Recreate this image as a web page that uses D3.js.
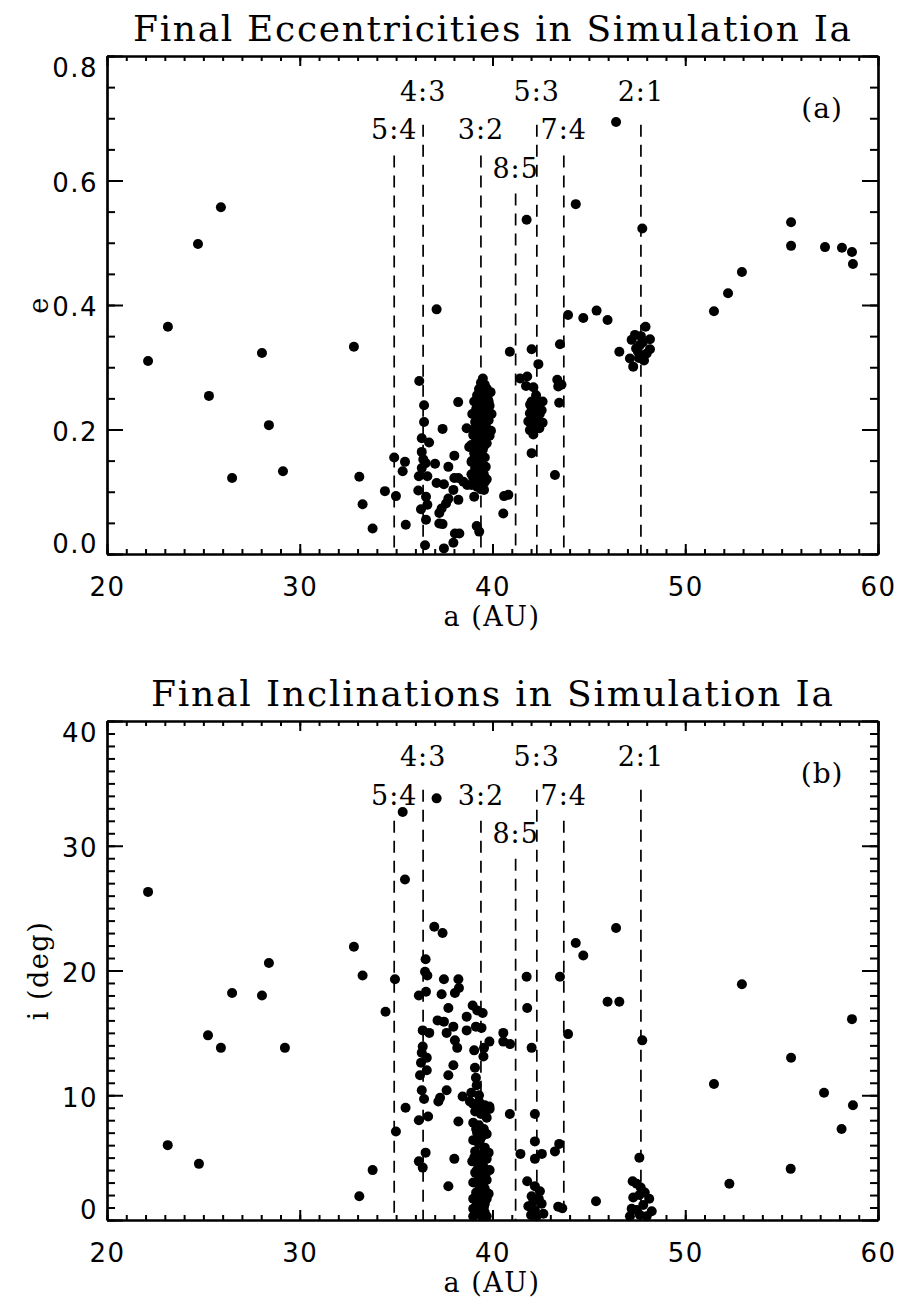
<!DOCTYPE html>
<html>
<head>
<meta charset="utf-8">
<script src="https://cdn.jsdelivr.net/npm/d3@7"></script>
<style>
body { margin: 0; background: #fff; }
</style>
</head>
<body>
<svg id="chart" width="899" height="1307"></svg>
<script>
// resonance locations (AU)
const resonanceNames = ["5:4", "4:3", "3:2", "8:5", "5:3", "7:4", "2:1"];
const resonanceA = [34.9, 36.4, 39.4, 41.2, 42.3, 43.7, 47.7];

const xTicks = [20, 30, 40, 50, 60];
const eTicks = [0.0, 0.2, 0.4, 0.6, 0.8];
const iTicks = [0, 10, 20, 30, 40];

// panel (a): [a, e]
const eccPoints = [
  [22.13,0.310],[23.16,0.365],[24.72,0.498],[25.91,0.557],[25.29,0.254],[26.49,0.122],[28.04,0.323],[28.40,0.207],[29.13,0.133],
  [32.81,0.333],[33.09,0.124],[33.26,0.080],[33.78,0.041],[34.42,0.101],[34.90,0.155],[34.99,0.093],[35.46,0.148],[35.34,0.133],[35.50,0.047],
  [36.20,0.278],[36.45,0.239],[36.45,0.212],[36.33,0.186],[36.71,0.179],[36.33,0.164],[36.41,0.152],[36.53,0.146],[36.18,0.125],[36.62,0.125],
  [36.33,0.138],[36.15,0.102],[36.55,0.092],[36.62,0.079],[36.29,0.072],[36.55,0.055],[36.50,0.014],
  [37.10,0.393],[37.41,0.201],[37.02,0.145],[37.71,0.140],[37.10,0.114],[37.48,0.112],[37.24,0.066],[37.36,0.073],[37.59,0.081],[37.71,0.089],
  [37.97,0.103],[38.02,0.122],[38.23,0.122],[38.49,0.116],[38.69,0.111],[38.23,0.087],[37.24,0.049],[37.41,0.048],[37.48,0.009],[37.97,0.018],
  [38.05,0.033],[38.28,0.033],[38.22,0.244],[38.66,0.202],[38.02,0.158],
  [39.18,0.045],[39.31,0.036],[39.05,0.092],[39.56,0.103],[38.91,0.111],[39.14,0.116],[39.43,0.127],[38.91,0.128],[39.35,0.140],[38.91,0.148],
  [38.79,0.172],[39.92,0.198],[39.00,0.191],[39.61,0.116],
  [39.50,0.282],[39.40,0.275],[39.60,0.272],[39.30,0.265],[39.50,0.262],[39.70,0.266],[39.90,0.260],[39.20,0.255],[39.45,0.252],[39.75,0.250],
  [39.05,0.245],[39.30,0.243],[39.60,0.240],[39.85,0.238],[39.15,0.233],[39.45,0.230],[39.70,0.228],[38.95,0.225],[39.30,0.222],[39.55,0.218],
  [39.80,0.215],[39.10,0.212],[39.40,0.208],[39.65,0.205],[39.00,0.200],[39.30,0.197],[39.55,0.193],[39.85,0.190],[39.15,0.186],[39.45,0.183],
  [39.70,0.178],[38.90,0.175],[39.25,0.172],[39.50,0.168],[39.05,0.162],[39.35,0.158],[39.60,0.155],[38.95,0.150],[39.20,0.147],[39.45,0.143],
  [39.10,0.138],[39.35,0.133],[39.55,0.128],[39.00,0.122],[39.25,0.120],[39.50,0.115],[39.20,0.108],[39.40,0.104],
  [39.65,0.262],[39.35,0.250],[39.80,0.245],[39.20,0.238],[39.55,0.235],[39.95,0.225],[39.25,0.205],[39.75,0.200],[39.40,0.190],[39.60,0.175],
  [39.10,0.170],[39.35,0.150],[39.65,0.140],[39.20,0.128],[39.70,0.120],
  [40.56,0.065],[40.60,0.093],[40.82,0.095],[40.90,0.325],
  [41.77,0.537],[42.03,0.329],[42.38,0.305],[41.43,0.282],[41.80,0.285],[41.74,0.270],[42.12,0.268],[42.26,0.255],[42.60,0.245],[42.03,0.245],
  [42.55,0.231],[41.94,0.226],[41.86,0.213],[42.60,0.211],[42.29,0.218],[41.94,0.199],[42.12,0.192],[42.43,0.202],[42.03,0.162],[42.26,0.231],
  [42.10,0.225],[42.35,0.240],[42.00,0.210],[42.45,0.225],[42.20,0.205],[41.95,0.240],
  [43.36,0.280],[43.58,0.272],[43.41,0.269],[43.46,0.243],[43.24,0.127],[43.50,0.337],
  [43.92,0.384],[44.71,0.379],[45.40,0.391],[45.97,0.376],[44.32,0.562],[46.41,0.694],[46.58,0.325],[47.77,0.523],
  [47.94,0.365],[47.30,0.301],[47.13,0.314],[48.17,0.329],[48.17,0.345],[47.86,0.311],[47.22,0.344],[47.39,0.352],[47.65,0.336],[47.55,0.325],
  [47.80,0.340],[47.45,0.330],[47.70,0.350],[48.00,0.322],[47.60,0.315],
  [51.49,0.390],[52.22,0.419],[52.94,0.453],[55.49,0.533],[55.49,0.495],[57.25,0.493],[58.13,0.492],[58.65,0.485],[58.70,0.466]
];

// panel (b): [a, i in deg]
const incPoints = [
  [22.13,26.3],[23.15,6.0],[24.77,4.5],[25.24,14.8],[25.91,13.8],[26.49,18.2],[28.04,18.0],[28.40,20.6],[29.23,13.8],
  [32.81,21.9],[33.09,1.9],[33.26,19.6],[33.78,4.0],[34.45,16.7],[34.94,19.3],[34.99,7.1],[35.34,32.7],[35.46,27.3],[35.49,9.0],
  [36.98,23.5],[37.41,23.0],[37.10,33.8],[36.53,20.9],[36.50,19.9],[36.62,19.6],[36.18,18.0],[36.55,18.3],[36.38,15.2],[36.72,15.0],
  [36.38,13.9],[36.33,13.4],[36.59,13.0],[36.29,12.6],[36.59,12.0],[36.24,11.6],[36.33,10.4],[36.45,9.7],[36.18,8.0],[36.66,8.3],
  [36.53,5.4],[36.18,4.7],[36.38,4.2],
  [37.48,19.3],[38.23,19.3],[37.36,18.1],[38.05,18.2],[38.26,18.6],[37.71,17.0],[38.66,16.3],[38.97,17.2],[39.21,16.8],[39.49,16.6],
  [37.15,16.0],[37.48,15.9],[37.62,15.0],[37.97,15.5],[38.66,15.2],[39.14,15.5],[39.43,15.4],[38.05,14.4],[38.17,13.8],[39.05,13.6],
  [39.56,13.8],[39.53,13.1],[39.84,14.3],[37.97,12.4],[37.71,11.6],[39.09,12.2],[39.14,11.4],[39.18,10.8],[37.62,10.4],[37.28,9.8],
  [37.19,9.5],[38.45,9.9],[38.83,9.5],[38.23,7.9],[38.02,4.9],[37.71,2.7],[39.84,9.1],[38.90,10.2],[39.30,10.0],
  [39.00,9.3],[39.30,9.5],[39.60,9.2],[39.85,8.9],[39.10,8.7],[39.40,8.5],[39.70,8.2],[39.00,7.8],[39.30,7.6],[39.55,7.3],
  [39.20,7.0],[39.45,6.7],[39.00,6.4],[39.30,6.1],[39.60,5.8],[39.10,5.5],[39.40,5.2],[39.70,4.9],[38.95,4.7],[39.25,4.5],
  [39.55,4.2],[39.85,4.0],[39.10,3.8],[39.40,3.5],[39.70,3.2],[39.00,3.0],[39.30,2.8],[39.60,2.5],[39.15,2.2],[39.45,2.0],
  [39.00,1.7],[39.30,1.5],[39.60,1.3],[39.10,1.0],[39.40,0.8],[39.20,0.5],[39.45,0.3],[39.00,0.9],[39.60,0.6],
  [39.25,9.0],[39.55,8.6],[39.15,7.3],[39.70,6.9],[39.35,6.4],[39.80,5.4],[39.05,5.0],[39.50,4.6],[39.20,4.0],[39.65,3.7],
  [39.25,3.2],[39.50,2.9],[39.80,2.1],[39.30,1.9],[39.70,1.7],[39.20,1.3],[39.55,1.0],[39.30,0.6],[39.70,0.3],[39.00,0.3],
  [40.56,15.0],[40.56,14.3],[40.91,14.1],[40.90,8.5],
  [41.77,19.5],[43.50,19.5],[41.80,17.0],[42.03,13.8],[43.92,14.9],[44.32,22.2],[44.71,21.2],[46.41,23.4],[45.97,17.5],[46.58,17.5],
  [47.77,14.4],[42.20,8.5],[42.20,6.3],[41.45,5.3],[42.20,4.9],[42.56,5.3],[43.24,5.5],[43.46,6.1],[47.62,5.0],[41.80,3.1],
  [45.37,1.5],[43.41,1.07],[43.62,0.94],
  [42.20,2.7],[42.03,1.9],[42.46,2.3],[41.86,1.1],[42.55,1.3],[42.20,0.8],[42.64,0.5],[42.29,0.3],[42.12,1.5],[42.40,1.7],[42.00,0.4],
  [47.27,3.1],[47.48,2.9],[47.69,2.6],[47.30,1.8],[47.62,2.0],[48.13,1.7],[47.22,0.9],[47.82,1.2],[48.26,0.7],[47.13,0.3],
  [47.65,0.4],[48.00,0.3],[47.48,0.8],[47.90,2.2],
  [51.49,10.9],[52.94,18.9],[52.29,2.9],[55.49,13.0],[55.47,4.1],[57.20,10.2],[58.11,7.3],[58.65,16.1],[58.70,9.2]
];

const svg = d3.select("#chart");
const serif = "DejaVu Serif";
const sans = "DejaVu Sans";

// label row (0 = top) and dashed-line top for each resonance, as fraction of y range
const labelRowFrac = [0.93, 0.852, 0.775];
const lineTopFrac = [0.862, 0.80, 0.724];
const resonanceRow = [1, 0, 1, 2, 0, 1, 0];

function drawPanel(cfg) {
    const x = d3.scaleLinear().domain([20, 60]).range([107, 878]);
    const y = d3.scaleLinear().domain(cfg.domain).range([cfg.bottom, cfg.top]);
    const yMax = cfg.domain[1];
    const g = svg.append("g");

    // title
    g.append("text")
        .attr("x", 492).attr("y", cfg.top - 15)
        .attr("text-anchor", "middle")
        .attr("font-family", serif).attr("font-size", 36)
        .attr("textLength", cfg.titleWidth).attr("lengthAdjust", "spacing")
        .text(cfg.title);

    // resonance lines + labels
    resonanceA.forEach((a, k) => {
        const row = resonanceRow[k];
        const topVal = yMax * lineTopFrac[row];
        g.append("line")
            .attr("x1", x(a)).attr("x2", x(a))
            .attr("y1", y(topVal)).attr("y2", y(0))
            .attr("stroke", "#000").attr("stroke-width", 1.7)
            .attr("stroke-dasharray", "12,8");
        g.append("text")
            .attr("x", x(a)).attr("y", y(yMax * labelRowFrac[row]))
            .attr("dy", "0.36em")
            .attr("text-anchor", "middle")
            .attr("font-family", serif).attr("font-size", 27)
            .attr("letter-spacing", 1)
            .text(resonanceNames[k]);
    });

    // panel tag
    g.append("text")
        .attr("x", x(57.1)).attr("y", y(yMax * 0.896))
        .attr("dy", "0.36em")
        .attr("text-anchor", "middle")
        .attr("font-family", serif).attr("font-size", 28)
        .attr("letter-spacing", 1)
        .text(cfg.tag);

    // points
    g.append("g").selectAll("circle")
        .data(cfg.points)
        .join("circle")
        .attr("cx", d => x(d[0]))
        .attr("cy", d => y(d[1]))
        .attr("r", 5)
        .attr("fill", "#000");

    // axes: minor then major, ticks pointing inward
    const xMinor = d3.range(20, 61, 1);
    const yMinor = d3.range(cfg.domain[0], yMax + cfg.minor / 2, cfg.minor);

    function styleAxis(sel) {
        sel.selectAll("path").attr("stroke-width", 2.2);
        sel.selectAll("line").attr("stroke-width", 2);
        sel.selectAll("text").attr("font-family", sans).attr("font-size", 26)
            .attr("letter-spacing", 1.5).attr("fill", "#000");
    }

    const bottomY = cfg.bottom, topY = cfg.top;
    svg.append("g").attr("transform", `translate(0,${bottomY})`)
        .call(d3.axisBottom(x).tickValues(xMinor).tickFormat("").tickSizeInner(-5).tickSizeOuter(0)).call(styleAxis);
    svg.append("g").attr("transform", `translate(0,${bottomY})`)
        .call(d3.axisBottom(x).tickValues(xTicks).tickFormat(d3.format("d")).tickSizeInner(-10).tickSizeOuter(0).tickPadding(24))
        .call(styleAxis);
    svg.append("g").attr("transform", `translate(0,${topY})`)
        .call(d3.axisTop(x).tickValues(xMinor).tickFormat("").tickSizeInner(-5).tickSizeOuter(0)).call(styleAxis);
    svg.append("g").attr("transform", `translate(0,${topY})`)
        .call(d3.axisTop(x).tickValues(xTicks).tickFormat("").tickSizeInner(-10).tickSizeOuter(0)).call(styleAxis);

    svg.append("g").attr("transform", "translate(107,0)")
        .call(d3.axisLeft(y).tickValues(yMinor).tickFormat("").tickSizeInner(-8).tickSizeOuter(0)).call(styleAxis);
    const left = svg.append("g").attr("transform", "translate(107,0)")
        .call(d3.axisLeft(y).tickValues(cfg.ticks).tickFormat(cfg.format).tickSizeInner(-16).tickSizeOuter(0).tickPadding(9))
        .call(styleAxis);
    left.selectAll(".tick text")
        .attr("dy", d => d === yMax ? "0.8em" : d === cfg.domain[0] ? "-0.04em" : "0.42em");
    svg.append("g").attr("transform", "translate(878,0)")
        .call(d3.axisRight(y).tickValues(yMinor).tickFormat("").tickSizeInner(-8).tickSizeOuter(0)).call(styleAxis);
    svg.append("g").attr("transform", "translate(878,0)")
        .call(d3.axisRight(y).tickValues(cfg.ticks).tickFormat("").tickSizeInner(-16).tickSizeOuter(0)).call(styleAxis);

    // axis titles
    g.append("text")
        .attr("x", 492).attr("y", bottomY + 72)
        .attr("text-anchor", "middle")
        .attr("font-family", serif).attr("font-size", 27)
        .attr("letter-spacing", 1.5)
        .text("a (AU)");
    g.append("text")
        .attr("transform", `translate(48,${(topY + bottomY) / 2}) rotate(-90)`)
        .attr("text-anchor", "middle")
        .attr("font-family", serif).attr("font-size", 27)
        .attr("letter-spacing", 1.5)
        .text(cfg.yLabel);
}

drawPanel({
    title: "Final Eccentricities in Simulation Ia",
    titleWidth: 718,
    tag: "(a)",
    yLabel: "e",
    domain: [0, 0.8], minor: 0.05,
    ticks: eTicks, format: d3.format(".1f"),
    top: 56, bottom: 554,
    points: eccPoints
});

drawPanel({
    title: "Final Inclinations in Simulation Ia",
    titleWidth: 682,
    tag: "(b)",
    yLabel: "i (deg)",
    domain: [0, 40], minor: 1,
    ticks: iTicks, format: d3.format("d"),
    top: 721, bottom: 1220,
    points: incPoints
});
</script>
</body>
</html>
